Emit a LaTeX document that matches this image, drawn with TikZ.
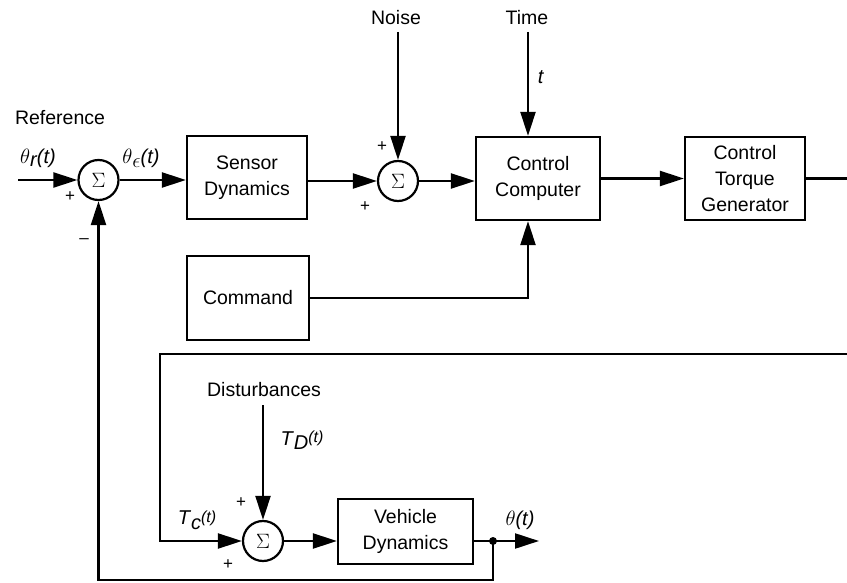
\documentclass[tikz,border=0pt]{standalone}
\usepackage{fontspec}
\setmainfont{Liberation Sans}
\usetikzlibrary{arrows.meta}
\begin{document}
\begin{tikzpicture}[x=1pt,y=-1pt, line width=2.2pt,
  >={Triangle[length=24pt,width=15pt]},
  box/.style={draw, rectangle, inner sep=0pt, font=\fontsize{19.5}{26}\selectfont, align=center},
  sumnode/.style={draw, circle, minimum size=40pt, inner sep=0pt, font=\fontsize{21}{21}\selectfont},
  lbl/.style={inner sep=0pt, font=\fontsize{19.5}{24}\selectfont},
  mlbl/.style={inner sep=0pt, font=\fontsize{20}{24}\selectfont},
  sgn/.style={inner sep=0pt, font=\fontsize{17}{17}\selectfont}]
\useasboundingbox (0,0) rectangle (847,583);

% blocks
\node[sumnode] (sum1) at (98.5,180) {$\Sigma$};
\node[box, minimum width=120pt, minimum height=83pt] (sensor) at (247,177.5) {Sensor\\Dynamics};
\node[sumnode] (sum2) at (398,181) {$\Sigma$};
\node[box, minimum width=124pt, minimum height=83pt] (cc) at (538,178.5) {Control\\Computer};
\node[box, minimum width=120pt, minimum height=83pt] (ctg) at (745,178.5) {Control\\Torque\\Generator};
\node[box, minimum width=122pt, minimum height=84pt] (cmd) at (248,298) {Command};
\node[box, minimum width=135pt, minimum height=65pt] (veh) at (405.5,531.5) {Vehicle\\Dynamics};
\node[sumnode] (sum3) at (263,541) {$\Sigma$};

% text labels
\node[lbl] (ref) at (60,118) {Reference};
\node[lbl] (noise) at (396,18) {Noise};
\node[lbl] (time) at (527,18) {Time};
\node[mlbl] (tl) at (541,77) {\textit{t}};
\node[lbl] (dist) at (264,390) {Disturbances};
\node[mlbl] (thr) at (38,158) {$\theta$\raisebox{-3pt}{\itshape r}\textit{(t)}};
\node[mlbl] (the) at (141,158) {$\theta$\raisebox{-4pt}{$\epsilon$}\textit{(t)}};
\node[mlbl] (tc) at (197,520) {\textit{T}\raisebox{-5pt}{\itshape c}\raisebox{2pt}{\itshape\fontsize{16}{16}\selectfont (t)}};
\node[mlbl] (td) at (302,440) {\textit{T}\raisebox{-4pt}{\itshape D}\raisebox{3pt}{\itshape\fontsize{16}{16}\selectfont (t)}};
\node[mlbl] (tho) at (520,520) {$\theta$\textit{(t)}};

% signs
\node[sgn] (p1) at (70,197) {+};
\node[sgn] (m1) at (84,241) {\textendash};
\node[sgn] (p2) at (382,147) {+};
\node[sgn] (p3) at (365,207) {+};
\node[sgn] (p4) at (241,503) {+};
\node[sgn] (p5) at (228,565) {+};

% free ends
\coordinate (inL) at (18,180);
\coordinate (noiseTop) at (398,32);
\coordinate (timeTop) at (528,32);
\coordinate (distTop) at (263,405);
\coordinate (outR) at (847,178.5);
\coordinate (fbR) at (847,354);
\coordinate (fbL) at (160,354);
\coordinate (J) at (493,541);
\coordinate (outEnd) at (539,541);
\coordinate (fbB) at (493,580);

% connectors
\draw[->] (inL) -- (sum1.west);
\draw[->] (sum1.east) -- (sum1.east -| sensor.west);
\draw[->] (sensor.east |- sum2) -- (sum2.west);
\draw[->] (noiseTop) -- (sum2.north);
\draw[->] (sum2.east) -- (sum2.east -| cc.west);
\draw[->] (timeTop) -- (timeTop |- cc.north);
\draw[->] (cmd.east) -| (cc.south -| timeTop);
\draw[->] (cc.east |- ctg) -- (ctg.west);
\draw (ctg.east) -- (outR);
\draw[->] (fbR) -- (fbL) |- (sum3.west);
\draw[->] (distTop) -- (sum3.north);
\draw[->] (sum3.east) -- (sum3.east -| veh.west);
\draw (veh.east |- sum3) -- (J);
\draw[->] (J) -- (outEnd);
\draw[->] (J) -- (fbB) -| (sum1.south);
\fill (J) circle (4pt);
\end{tikzpicture}
\end{document}
